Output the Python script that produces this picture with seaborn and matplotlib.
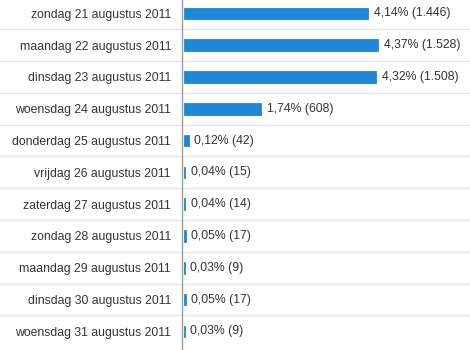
import matplotlib
matplotlib.use("Agg")
import matplotlib.pyplot as plt
import seaborn as sns
import pandas as pd

days = ["zondag 21 augustus 2011", "maandag 22 augustus 2011", "dinsdag 23 augustus 2011",
        "woensdag 24 augustus 2011", "donderdag 25 augustus 2011", "vrijdag 26 augustus 2011",
        "zaterdag 27 augustus 2011", "zondag 28 augustus 2011", "maandag 29 augustus 2011",
        "dinsdag 30 augustus 2011", "woensdag 31 augustus 2011"]
counts = [1446, 1528, 1508, 608, 42, 15, 14, 17, 9, 17, 9]
percents = ["4,14%", "4,37%", "4,32%", "1,74%", "0,12%", "0,04%", "0,04%", "0,05%", "0,03%", "0,05%", "0,03%"]
count_labels = ["1.446", "1.528", "1.508", "608", "42", "15", "14", "17", "9", "17", "9"]

df = pd.DataFrame({"day": days, "count": counts})

sns.set_style("white")
plt.rcParams['font.family'] = ['Liberation Sans', 'DejaVu Sans']

W = 470
ax_left = 183.5 / W
fig = plt.figure(figsize=(4.7, 3.5), dpi=100)
ax = fig.add_axes([ax_left, 0, 1 - ax_left, 1])
sns.barplot(data=df, x="count", y="day", orient="h", color="#1f87d7", saturation=1,
            width=0.37, edgecolor="#1f87d7", linewidth=0.6, ax=ax)

ax.set_xlim(0, 2245)
ax.set_ylim(10.585, -0.421)
ax.set_xlabel("")
ax.set_ylabel("")
ax.set_xticks([])
for s in ["top", "right", "bottom"]:
    ax.spines[s].set_visible(False)
ax.spines["left"].set_position(("outward", 1))
ax.spines["left"].set_color("#9a9a9a")
ax.spines["left"].set_linestyle((0, (2, 1)))
ax.spines["left"].set_linewidth(1)
ax.tick_params(axis="y", length=0, pad=8, labelsize=8.8, labelcolor="#333333")

ext = -ax_left / (1 - ax_left)
for i in range(len(days) - 1):
    ax.axhline(i + 0.5, color="#e6e6e6", lw=1, xmin=ext, xmax=1, clip_on=False, zorder=0)

for i, (c, p, cl) in enumerate(zip(counts, percents, count_labels)):
    ax.annotate(f"{p} ({cl})", xy=(c, i), xytext=(4, 0), textcoords="offset points",
                va="center", ha="left", fontsize=8.8, color="#333333")

fig.savefig("out.png", dpi=100)
